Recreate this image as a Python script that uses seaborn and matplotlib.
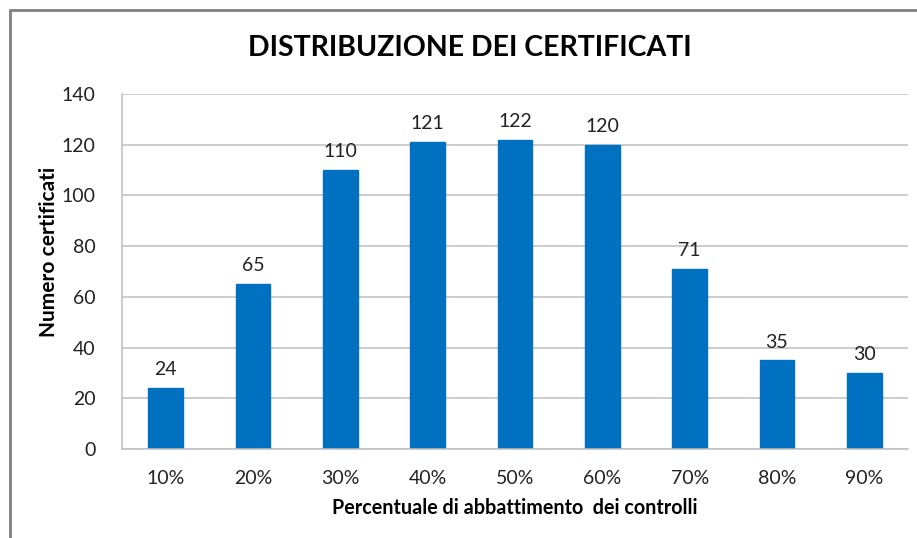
import matplotlib
matplotlib.use("Agg")
import matplotlib.pyplot as plt
import seaborn as sns
import pandas as pd
from matplotlib.lines import Line2D

categories = ["10%", "20%", "30%", "40%", "50%", "60%", "70%", "80%", "90%"]
values = [24, 65, 110, 121, 122, 120, 71, 35, 30]
yticks = [0, 20, 40, 60, 80, 100, 120, 140]

sns.set_theme(style="white")
plt.rcParams['font.family'] = ['Lato', 'DejaVu Sans']

df = pd.DataFrame({"cat": categories, "val": values})

fig = plt.figure(figsize=(9.17, 5.38), dpi=100)
W, H = 917, 538
ax = fig.add_axes([122 / W, 1 - 449 / H, (908 - 122) / W, (449 - 94) / H])

sns.barplot(data=df, x="cat", y="val", color="#0070C0", width=0.4, ax=ax,
            saturation=1, edgecolor="#0070C0")

ax.set_ylim(0, 140)
ax.set_yticks(yticks)
ax.set_xlim(-0.5, len(categories) - 0.5)
ax.yaxis.grid(True, color="#BFBFBF", linewidth=1.1)
ax.set_axisbelow(True)
for s in ["top", "right"]:
    ax.spines[s].set_visible(False)
ax.spines["left"].set_color("#BFBFBF")
ax.spines["bottom"].set_color("#BFBFBF")
ax.spines["left"].set_linewidth(1.1)
ax.spines["bottom"].set_linewidth(1.1)

ax.tick_params(axis="both", length=0, labelsize=14, colors="#222222")
ax.tick_params(axis="y", pad=19)
ax.tick_params(axis="x", pad=15)

for i, v in enumerate(values):
    ax.annotate(str(v), (i, v), xytext=(0, 7), textcoords="offset points",
                ha="center", va="bottom", fontsize=14, color="#222222")

ax.set_xlabel("Percentuale di abbattimento  dei controlli", fontsize=14.2,
              fontweight="bold", labelpad=8, color="black")
ax.set_ylabel("Numero certificati", fontsize=15, fontweight="bold",
              color="black", va="center")
ax.yaxis.set_label_coords((49 - 122) / 786, (449 - 252) / 355)

fig.text(470 / W, 1 - 48 / H, "DISTRIBUZIONE DEI CERTIFICATI", ha="center",
         va="center", fontsize=20.5, fontweight="bold", color="black")

# outer frame (left and top)
fig.add_artist(Line2D([10 / W, 10 / W], [0, 1 - 10 / H], transform=fig.transFigure,
                      color="#808080", linewidth=2))
fig.add_artist(Line2D([10 / W, 1], [1 - 10 / H, 1 - 10 / H], transform=fig.transFigure,
                      color="#808080", linewidth=2))

fig.savefig("out.png", dpi=100, facecolor="white")
